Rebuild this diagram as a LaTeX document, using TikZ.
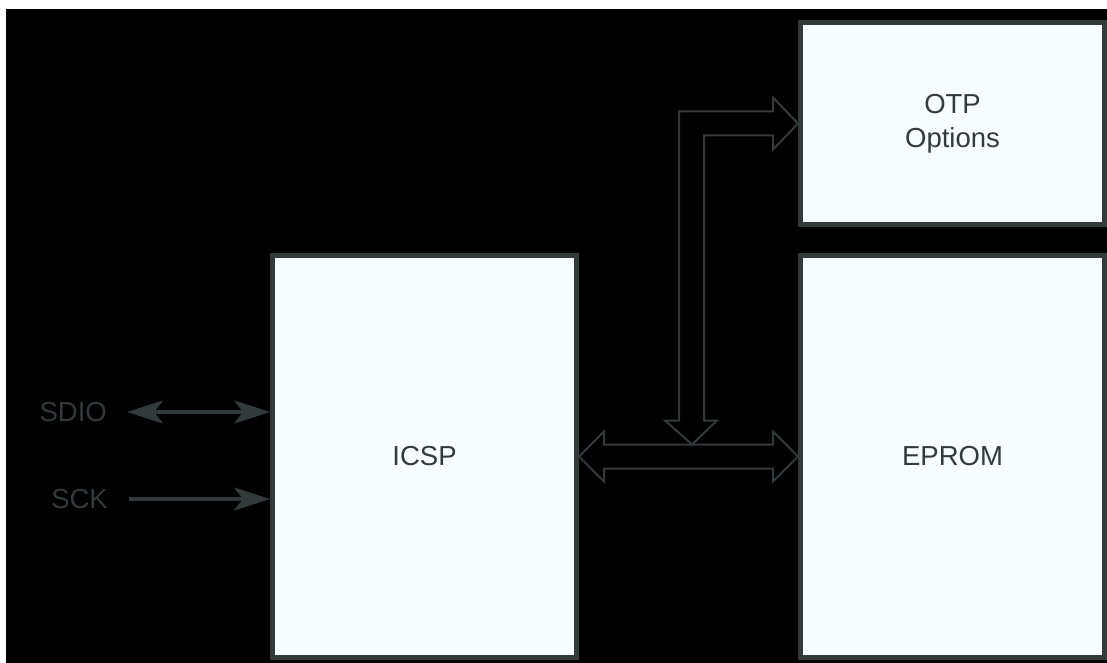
\documentclass[tikz,border=0pt]{standalone}
\usepackage{fontspec}
\setmainfont{Liberation Sans}
\usetikzlibrary{arrows.meta,calc}
\definecolor{edge}{HTML}{333A3A}
\definecolor{boxfill}{HTML}{F8FEFE}
\tikzset{
  blk/.style={draw=edge, fill=boxfill, line width=5pt, minimum width=304pt, inner sep=0pt,
    font=\fontsize{27.5}{34}\selectfont, text=edge, align=center},
  lbl/.style={text=edge, font=\fontsize{27.5}{34}\selectfont, inner sep=0pt, anchor=east},
  sig/.style={draw=edge, line width=4pt},
  sigtip/.tip={Stealth[length=36pt,width=23pt,inset=9pt]},
  hollow/.style={draw=edge, line width=2pt, line join=miter},
}
\begin{document}
\begin{tikzpicture}[x=1pt,y=-1pt]
\useasboundingbox (0,0) rectangle (1107,663);
\fill[black] (6,9) rectangle (1107,663);
% blocks
\node[blk, minimum height=402pt] (icsp) at (424.5,456.5) {ICSP};
\node[blk, minimum height=202pt] (otp) at (952.5,123.5) {OTP\\Options};
\node[blk, minimum height=402pt] (eprom) at (952.5,456.5) {EPROM};
% pin labels
\node[lbl] (sdio) at (107,412) {SDIO};
\node[lbl] (sck) at (108,499) {SCK};
% pin arrows
\draw[sig, sigtip-sigtip] ([xshift=20pt]sdio.east) -- (sdio.east -| icsp.west);
\draw[sig, -sigtip] ([xshift=21pt]sck.east) -- (sck.east -| icsp.west);
% internal bus (hollow double arrow)
\draw[hollow] (icsp.east) -- ++(25,-25) -- ++(0,13) -- ($(eprom.west)+(-25,-12)$)
  -- ++(0,-13) -- (eprom.west) -- ++(-25,25) -- ++(0,-13)
  -- ($(icsp.east)+(25,12)$) -- ++(0,13) -- cycle;
% branch to OTP options (hollow arrow)
\coordinate (vt) at ($(icsp.east)+(113,-12)$);
\draw[hollow] (vt) -- ++(-27,-24) -- ++(14,0) -- ($(otp.west)+(-119,-12)$)
  -- ($(otp.west)+(-25,-12)$) -- ++(0,-14) -- (otp.west) -- ++(-25,26)
  -- ++(0,-14) -- ($(otp.west)+(-94,12)$) -- ($(vt)+(12,-24)$) -- ++(13,0) -- cycle;
\end{tikzpicture}
\end{document}
